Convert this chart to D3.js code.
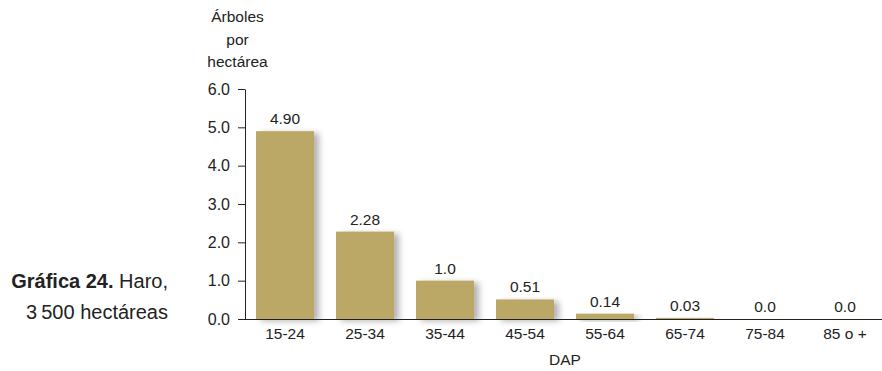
<!DOCTYPE html>
<html><head><meta charset="utf-8">
<script src="https://cdn.jsdelivr.net/npm/d3@7/dist/d3.min.js"></script>
<style>
body{margin:0;background:#fff;}
text{font-family:"Liberation Sans",Arial,Helvetica,sans-serif;fill:#222;}
</style></head>
<body>
<svg id="c" width="882" height="371"></svg>
<script>
const categories = ["15-24","25-34","35-44","45-54","55-64","65-74","75-84","85 o +"];
const values = [4.90, 2.28, 1.0, 0.51, 0.14, 0.03, 0.0, 0.0];
const valueLabels = ["4.90","2.28","1.0","0.51","0.14","0.03","0.0","0.0"];
const yTicks = [0,1,2,3,4,5,6];
const yTitle = ["Árboles","por","hectárea"];
const xTitle = "DAP";
const captionBold = "Gráfica 24.";
const captionRest = " Haro,";
const captionLine2 = "3\u2009500 hectáreas";

const svg = d3.select("#c");
const defs = svg.append("defs");
const f = defs.append("filter").attr("id","sh").attr("x","-20%").attr("y","-20%").attr("width","160%").attr("height","160%");
f.append("feGaussianBlur").attr("in","SourceAlpha").attr("stdDeviation",3).attr("result","b");
f.append("feOffset").attr("in","b").attr("dx",5).attr("dy",2).attr("result","o");
f.append("feComponentTransfer").attr("in","o").attr("result","o2").append("feFuncA").attr("type","linear").attr("slope",0.3);
const m = f.append("feMerge"); m.append("feMergeNode").attr("in","o2"); m.append("feMergeNode").attr("in","SourceGraphic");

const x0 = 245;
const x = d3.scaleBand().domain(categories).range([x0, x0+640]).paddingInner(0.275).paddingOuter(0.1375);
const y = d3.scaleLinear().domain([0,6]).range([319,89]);

svg.append("g").selectAll("rect").data(values).join("rect")
  .attr("x",(d,i)=>x(categories[i])).attr("width",x.bandwidth())
  .attr("y",d=>y(d)).attr("height",d=>y(0)-y(d))
  .attr("fill","#bba866").attr("filter","url(#sh)");

svg.append("g").selectAll("text").data(values).join("text")
  .attr("x",(d,i)=>x(categories[i])+x.bandwidth()/2).attr("y",d=>y(d)-7)
  .attr("text-anchor","middle").attr("font-size",15.5).text((d,i)=>valueLabels[i]);

// y axis
const ya = svg.append("g").attr("transform",`translate(${x0},0)`)
  .call(d3.axisLeft(y).tickValues(yTicks).tickFormat(d3.format(".1f")).tickSize(7).tickSizeOuter(0));
ya.select(".domain").attr("stroke","#222");
ya.selectAll(".tick line").attr("stroke","#222");
ya.selectAll(".tick text").attr("font-size",16).attr("x",-15).attr("fill","#222").attr("font-family",null);

// x baseline
svg.append("line").attr("x1",x0).attr("x2",882).attr("y1",y(0)+0.5).attr("y2",y(0)+0.5).attr("stroke","#222");
svg.append("g").selectAll("text").data(categories).join("text")
  .attr("x",d=>x(d)+x.bandwidth()/2).attr("y",339).attr("text-anchor","middle").attr("font-size",15.5)
  .style("white-space","pre").text(d=>d);

svg.append("text").attr("x",(x.range()[0]+x.range()[1])/2).attr("y",365).attr("text-anchor","middle").attr("font-size",15.5).text(xTitle);

svg.append("g").selectAll("text").data(yTitle).join("text")
  .attr("x",237.5).attr("y",(d,i)=>22+i*22.5).attr("text-anchor","middle").attr("font-size",15.5).text(d=>d);

const cap = svg.append("text").attr("x",168).attr("y",288).attr("text-anchor","end").attr("font-size",20);
cap.append("tspan").attr("font-weight","bold").text(captionBold);
cap.append("tspan").text(captionRest);
svg.append("text").attr("x",168).attr("y",319).attr("text-anchor","end").attr("font-size",20).text(captionLine2);
</script>
</body></html>
